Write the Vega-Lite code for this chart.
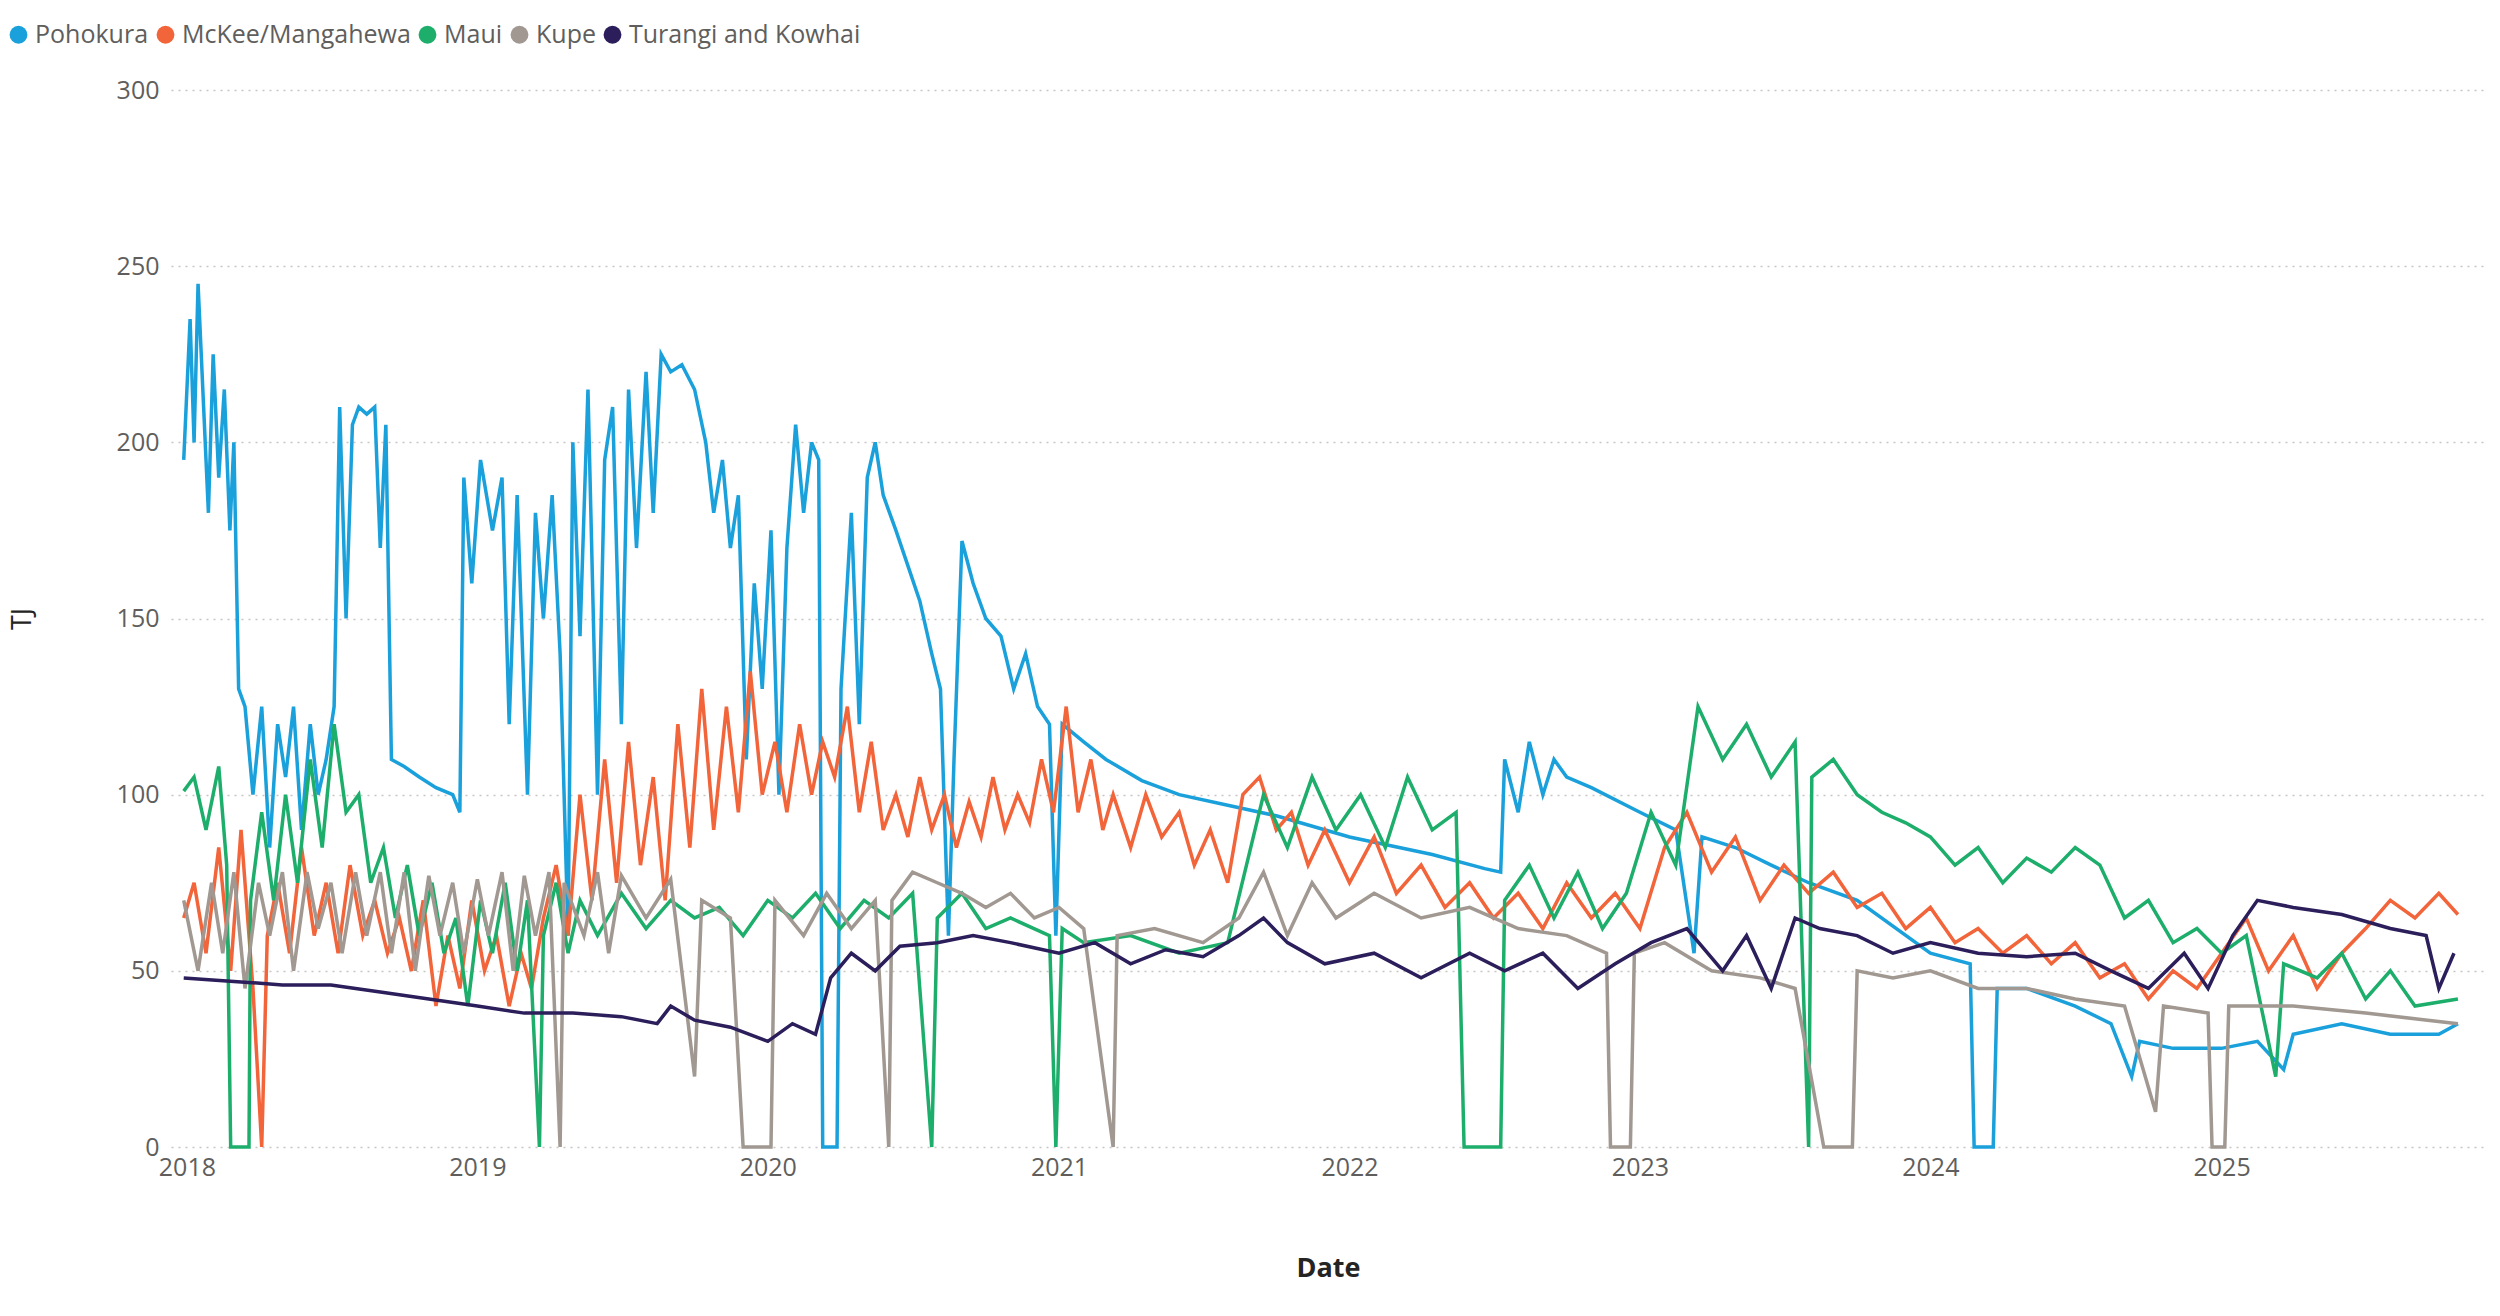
{
  "$schema": "https://vega.github.io/schema/vega-lite/v6.json",
  "width": 2500,
  "height": 1316,
  "autosize": {"type": "fit", "contains": "padding"},
  "padding": {"left": 8, "top": 78, "right": 15, "bottom": 35},
  "config": {
    "font": "Open Sans",
    "view": {"stroke": null},
    "axis": {"labelColor": "#605E5C", "labelFontSize": 25, "titleFontSize": 27, "titleColor": "#252423"}
  },
  "datasets": {
    "P": [{"d":"2017-12-28","v":195},{"d":"2018-01-05","v":235},{"d":"2018-01-10","v":200},{"d":"2018-01-15","v":245},{"d":"2018-01-22","v":210},{"d":"2018-01-28","v":180},{"d":"2018-02-03","v":225},{"d":"2018-02-10","v":190},{"d":"2018-02-17","v":215},{"d":"2018-02-24","v":175},{"d":"2018-03-01","v":200},{"d":"2018-03-07","v":130},{"d":"2018-03-15","v":125},{"d":"2018-03-25","v":100},{"d":"2018-04-05","v":125},{"d":"2018-04-15","v":85},{"d":"2018-04-25","v":120},{"d":"2018-05-05","v":105},{"d":"2018-05-15","v":125},{"d":"2018-05-25","v":90},{"d":"2018-06-05","v":120},{"d":"2018-06-15","v":100},{"d":"2018-06-25","v":110},{"d":"2018-07-05","v":125},{"d":"2018-07-12","v":210},{"d":"2018-07-20","v":150},{"d":"2018-07-28","v":205},{"d":"2018-08-05","v":210},{"d":"2018-08-15","v":208},{"d":"2018-08-25","v":210},{"d":"2018-09-01","v":170},{"d":"2018-09-08","v":205},{"d":"2018-09-15","v":110},{"d":"2018-10-01","v":108},{"d":"2018-10-20","v":105},{"d":"2018-11-10","v":102},{"d":"2018-12-01","v":100},{"d":"2018-12-10","v":95},{"d":"2018-12-15","v":190},{"d":"2018-12-25","v":160},{"d":"2019-01-05","v":195},{"d":"2019-01-20","v":175},{"d":"2019-02-01","v":190},{"d":"2019-02-10","v":120},{"d":"2019-02-20","v":185},{"d":"2019-03-05","v":100},{"d":"2019-03-15","v":180},{"d":"2019-03-25","v":150},{"d":"2019-04-05","v":185},{"d":"2019-04-15","v":140},{"d":"2019-04-25","v":60},{"d":"2019-05-01","v":200},{"d":"2019-05-10","v":145},{"d":"2019-05-20","v":215},{"d":"2019-06-01","v":100},{"d":"2019-06-10","v":195},{"d":"2019-06-20","v":210},{"d":"2019-07-01","v":120},{"d":"2019-07-10","v":215},{"d":"2019-07-20","v":170},{"d":"2019-08-01","v":220},{"d":"2019-08-10","v":180},{"d":"2019-08-20","v":225},{"d":"2019-09-01","v":220},{"d":"2019-09-15","v":222},{"d":"2019-10-01","v":215},{"d":"2019-10-15","v":200},{"d":"2019-10-25","v":180},{"d":"2019-11-05","v":195},{"d":"2019-11-15","v":170},{"d":"2019-11-25","v":185},{"d":"2019-12-05","v":110},{"d":"2019-12-15","v":160},{"d":"2019-12-25","v":130},{"d":"2020-01-05","v":175},{"d":"2020-01-15","v":100},{"d":"2020-01-25","v":170},{"d":"2020-02-05","v":205},{"d":"2020-02-15","v":180},{"d":"2020-02-25","v":200},{"d":"2020-03-05","v":195},{"d":"2020-03-10","v":0},{"d":"2020-03-28","v":0},{"d":"2020-04-02","v":130},{"d":"2020-04-15","v":180},{"d":"2020-04-25","v":120},{"d":"2020-05-05","v":190},{"d":"2020-05-15","v":200},{"d":"2020-05-25","v":185},{"d":"2020-06-10","v":175},{"d":"2020-06-25","v":165},{"d":"2020-07-10","v":155},{"d":"2020-07-25","v":140},{"d":"2020-08-05","v":130},{"d":"2020-08-15","v":60},{"d":"2020-08-22","v":110},{"d":"2020-09-01","v":172},{"d":"2020-09-15","v":160},{"d":"2020-10-01","v":150},{"d":"2020-10-20","v":145},{"d":"2020-11-05","v":130},{"d":"2020-11-20","v":140},{"d":"2020-12-05","v":125},{"d":"2020-12-20","v":120},{"d":"2020-12-28","v":60},{"d":"2021-01-05","v":120},{"d":"2021-02-01","v":115},{"d":"2021-03-01","v":110},{"d":"2021-04-15","v":104},{"d":"2021-06-01","v":100},{"d":"2021-08-01","v":97},{"d":"2021-10-01","v":94},{"d":"2022-01-01","v":88},{"d":"2022-04-15","v":83},{"d":"2022-06-20","v":79},{"d":"2022-07-10","v":78},{"d":"2022-07-15","v":110},{"d":"2022-08-01","v":95},{"d":"2022-08-15","v":115},{"d":"2022-09-01","v":100},{"d":"2022-09-15","v":110},{"d":"2022-10-01","v":105},{"d":"2022-11-01","v":102},{"d":"2023-01-01","v":95},{"d":"2023-02-15","v":90},{"d":"2023-03-10","v":55},{"d":"2023-03-20","v":88},{"d":"2023-05-01","v":85},{"d":"2023-06-15","v":80},{"d":"2023-08-01","v":75},{"d":"2023-10-01","v":70},{"d":"2024-01-01","v":55},{"d":"2024-02-20","v":52},{"d":"2024-02-25","v":0},{"d":"2024-03-20","v":0},{"d":"2024-03-25","v":45},{"d":"2024-05-01","v":45},{"d":"2024-07-01","v":40},{"d":"2024-08-15","v":35},{"d":"2024-09-10","v":20},{"d":"2024-09-20","v":30},{"d":"2024-11-01","v":28},{"d":"2025-01-01","v":28},{"d":"2025-02-15","v":30},{"d":"2025-03-20","v":22},{"d":"2025-04-01","v":32},{"d":"2025-06-01","v":35},{"d":"2025-08-01","v":32},{"d":"2025-10-01","v":32},{"d":"2025-10-25","v":35}],
    "M": [{"d":"2017-12-28","v":65},{"d":"2018-01-10","v":75},{"d":"2018-01-25","v":55},{"d":"2018-02-10","v":85},{"d":"2018-02-25","v":50},{"d":"2018-03-10","v":90},{"d":"2018-03-25","v":45},{"d":"2018-04-05","v":0},{"d":"2018-04-12","v":60},{"d":"2018-04-25","v":75},{"d":"2018-05-10","v":55},{"d":"2018-05-25","v":85},{"d":"2018-06-10","v":60},{"d":"2018-06-25","v":75},{"d":"2018-07-10","v":55},{"d":"2018-07-25","v":80},{"d":"2018-08-10","v":60},{"d":"2018-08-25","v":70},{"d":"2018-09-10","v":55},{"d":"2018-09-25","v":65},{"d":"2018-10-10","v":50},{"d":"2018-10-25","v":70},{"d":"2018-11-10","v":40},{"d":"2018-11-25","v":60},{"d":"2018-12-10","v":45},{"d":"2018-12-25","v":70},{"d":"2019-01-10","v":50},{"d":"2019-01-25","v":60},{"d":"2019-02-10","v":40},{"d":"2019-02-25","v":55},{"d":"2019-03-10","v":45},{"d":"2019-03-25","v":65},{"d":"2019-04-10","v":80},{"d":"2019-04-25","v":60},{"d":"2019-05-10","v":100},{"d":"2019-05-25","v":70},{"d":"2019-06-10","v":110},{"d":"2019-06-25","v":75},{"d":"2019-07-10","v":115},{"d":"2019-07-25","v":80},{"d":"2019-08-10","v":105},{"d":"2019-08-25","v":70},{"d":"2019-09-10","v":120},{"d":"2019-09-25","v":85},{"d":"2019-10-10","v":130},{"d":"2019-10-25","v":90},{"d":"2019-11-10","v":125},{"d":"2019-11-25","v":95},{"d":"2019-12-10","v":135},{"d":"2019-12-25","v":100},{"d":"2020-01-10","v":115},{"d":"2020-01-25","v":95},{"d":"2020-02-10","v":120},{"d":"2020-02-25","v":100},{"d":"2020-03-10","v":115},{"d":"2020-03-25","v":105},{"d":"2020-04-10","v":125},{"d":"2020-04-25","v":95},{"d":"2020-05-10","v":115},{"d":"2020-05-25","v":90},{"d":"2020-06-10","v":100},{"d":"2020-06-25","v":88},{"d":"2020-07-10","v":105},{"d":"2020-07-25","v":90},{"d":"2020-08-10","v":100},{"d":"2020-08-25","v":85},{"d":"2020-09-10","v":98},{"d":"2020-09-25","v":88},{"d":"2020-10-10","v":105},{"d":"2020-10-25","v":90},{"d":"2020-11-10","v":100},{"d":"2020-11-25","v":92},{"d":"2020-12-10","v":110},{"d":"2020-12-25","v":95},{"d":"2021-01-10","v":125},{"d":"2021-01-25","v":95},{"d":"2021-02-10","v":110},{"d":"2021-02-25","v":90},{"d":"2021-03-10","v":100},{"d":"2021-04-01","v":85},{"d":"2021-04-20","v":100},{"d":"2021-05-10","v":88},{"d":"2021-06-01","v":95},{"d":"2021-06-20","v":80},{"d":"2021-07-10","v":90},{"d":"2021-08-01","v":75},{"d":"2021-08-20","v":100},{"d":"2021-09-10","v":105},{"d":"2021-10-01","v":90},{"d":"2021-10-20","v":95},{"d":"2021-11-10","v":80},{"d":"2021-12-01","v":90},{"d":"2022-01-01","v":75},{"d":"2022-02-01","v":88},{"d":"2022-03-01","v":72},{"d":"2022-04-01","v":80},{"d":"2022-05-01","v":68},{"d":"2022-06-01","v":75},{"d":"2022-07-01","v":65},{"d":"2022-08-01","v":72},{"d":"2022-09-01","v":62},{"d":"2022-10-01","v":75},{"d":"2022-11-01","v":65},{"d":"2022-12-01","v":72},{"d":"2023-01-01","v":62},{"d":"2023-02-01","v":85},{"d":"2023-03-01","v":95},{"d":"2023-04-01","v":78},{"d":"2023-05-01","v":88},{"d":"2023-06-01","v":70},{"d":"2023-07-01","v":80},{"d":"2023-08-01","v":72},{"d":"2023-09-01","v":78},{"d":"2023-10-01","v":68},{"d":"2023-11-01","v":72},{"d":"2023-12-01","v":62},{"d":"2024-01-01","v":68},{"d":"2024-02-01","v":58},{"d":"2024-03-01","v":62},{"d":"2024-04-01","v":55},{"d":"2024-05-01","v":60},{"d":"2024-06-01","v":52},{"d":"2024-07-01","v":58},{"d":"2024-08-01","v":48},{"d":"2024-09-01","v":52},{"d":"2024-10-01","v":42},{"d":"2024-11-01","v":50},{"d":"2024-12-01","v":45},{"d":"2025-01-01","v":55},{"d":"2025-02-01","v":65},{"d":"2025-03-01","v":50},{"d":"2025-04-01","v":60},{"d":"2025-05-01","v":45},{"d":"2025-06-01","v":55},{"d":"2025-07-01","v":62},{"d":"2025-08-01","v":70},{"d":"2025-09-01","v":65},{"d":"2025-10-01","v":72},{"d":"2025-10-25","v":66}],
    "Ma": [{"d":"2017-12-28","v":101},{"d":"2018-01-10","v":105},{"d":"2018-01-25","v":90},{"d":"2018-02-10","v":108},{"d":"2018-02-20","v":80},{"d":"2018-02-25","v":0},{"d":"2018-03-20","v":0},{"d":"2018-03-22","v":70},{"d":"2018-04-05","v":95},{"d":"2018-04-20","v":70},{"d":"2018-05-05","v":100},{"d":"2018-05-20","v":75},{"d":"2018-06-05","v":110},{"d":"2018-06-20","v":85},{"d":"2018-07-05","v":120},{"d":"2018-07-20","v":95},{"d":"2018-08-05","v":100},{"d":"2018-08-20","v":75},{"d":"2018-09-05","v":85},{"d":"2018-09-20","v":65},{"d":"2018-10-05","v":80},{"d":"2018-10-20","v":60},{"d":"2018-11-05","v":75},{"d":"2018-11-20","v":55},{"d":"2018-12-05","v":65},{"d":"2018-12-20","v":40},{"d":"2019-01-05","v":70},{"d":"2019-01-20","v":55},{"d":"2019-02-05","v":75},{"d":"2019-02-20","v":50},{"d":"2019-03-05","v":70},{"d":"2019-03-20","v":0},{"d":"2019-03-25","v":60},{"d":"2019-04-10","v":75},{"d":"2019-04-25","v":55},{"d":"2019-05-10","v":70},{"d":"2019-06-01","v":60},{"d":"2019-07-01","v":72},{"d":"2019-08-01","v":62},{"d":"2019-09-01","v":70},{"d":"2019-10-01","v":65},{"d":"2019-11-01","v":68},{"d":"2019-12-01","v":60},{"d":"2020-01-01","v":70},{"d":"2020-02-01","v":65},{"d":"2020-03-01","v":72},{"d":"2020-04-01","v":62},{"d":"2020-05-01","v":70},{"d":"2020-06-01","v":65},{"d":"2020-07-01","v":72},{"d":"2020-07-25","v":0},{"d":"2020-08-01","v":65},{"d":"2020-09-01","v":72},{"d":"2020-10-01","v":62},{"d":"2020-11-01","v":65},{"d":"2020-12-20","v":60},{"d":"2020-12-28","v":0},{"d":"2021-01-05","v":62},{"d":"2021-02-01","v":58},{"d":"2021-04-01","v":60},{"d":"2021-06-01","v":55},{"d":"2021-08-01","v":58},{"d":"2021-09-15","v":100},{"d":"2021-10-15","v":85},{"d":"2021-11-15","v":105},{"d":"2021-12-15","v":90},{"d":"2022-01-15","v":100},{"d":"2022-02-15","v":85},{"d":"2022-03-15","v":105},{"d":"2022-04-15","v":90},{"d":"2022-05-15","v":95},{"d":"2022-05-25","v":0},{"d":"2022-07-10","v":0},{"d":"2022-07-15","v":70},{"d":"2022-08-15","v":80},{"d":"2022-09-15","v":65},{"d":"2022-10-15","v":78},{"d":"2022-11-15","v":62},{"d":"2022-12-15","v":72},{"d":"2023-01-15","v":95},{"d":"2023-02-15","v":80},{"d":"2023-03-15","v":125},{"d":"2023-04-15","v":110},{"d":"2023-05-15","v":120},{"d":"2023-06-15","v":105},{"d":"2023-07-15","v":115},{"d":"2023-08-01","v":0},{"d":"2023-08-05","v":105},{"d":"2023-09-01","v":110},{"d":"2023-10-01","v":100},{"d":"2023-11-01","v":95},{"d":"2023-12-01","v":92},{"d":"2024-01-01","v":88},{"d":"2024-02-01","v":80},{"d":"2024-03-01","v":85},{"d":"2024-04-01","v":75},{"d":"2024-05-01","v":82},{"d":"2024-06-01","v":78},{"d":"2024-07-01","v":85},{"d":"2024-08-01","v":80},{"d":"2024-09-01","v":65},{"d":"2024-10-01","v":70},{"d":"2024-11-01","v":58},{"d":"2024-12-01","v":62},{"d":"2025-01-01","v":55},{"d":"2025-02-01","v":60},{"d":"2025-03-10","v":20},{"d":"2025-03-20","v":52},{"d":"2025-05-01","v":48},{"d":"2025-06-01","v":55},{"d":"2025-07-01","v":42},{"d":"2025-08-01","v":50},{"d":"2025-09-01","v":40},{"d":"2025-10-25","v":42}],
    "K": [{"d":"2017-12-28","v":70},{"d":"2018-01-15","v":50},{"d":"2018-02-01","v":75},{"d":"2018-02-15","v":55},{"d":"2018-03-01","v":78},{"d":"2018-03-15","v":45},{"d":"2018-04-01","v":75},{"d":"2018-04-15","v":60},{"d":"2018-05-01","v":78},{"d":"2018-05-15","v":50},{"d":"2018-06-01","v":78},{"d":"2018-06-15","v":62},{"d":"2018-07-01","v":75},{"d":"2018-07-15","v":55},{"d":"2018-08-01","v":78},{"d":"2018-08-15","v":60},{"d":"2018-09-01","v":78},{"d":"2018-09-15","v":55},{"d":"2018-10-01","v":78},{"d":"2018-10-15","v":50},{"d":"2018-11-01","v":77},{"d":"2018-11-15","v":60},{"d":"2018-12-01","v":75},{"d":"2018-12-15","v":55},{"d":"2019-01-01","v":76},{"d":"2019-01-15","v":60},{"d":"2019-02-01","v":78},{"d":"2019-02-15","v":50},{"d":"2019-03-01","v":77},{"d":"2019-03-15","v":60},{"d":"2019-04-01","v":78},{"d":"2019-04-15","v":0},{"d":"2019-04-20","v":75},{"d":"2019-05-15","v":60},{"d":"2019-06-01","v":78},{"d":"2019-06-15","v":55},{"d":"2019-07-01","v":77},{"d":"2019-08-01","v":65},{"d":"2019-09-01","v":76},{"d":"2019-10-01","v":20},{"d":"2019-10-10","v":70},{"d":"2019-11-15","v":65},{"d":"2019-12-01","v":0},{"d":"2020-01-05","v":0},{"d":"2020-01-10","v":70},{"d":"2020-02-15","v":60},{"d":"2020-03-15","v":72},{"d":"2020-04-15","v":62},{"d":"2020-05-15","v":70},{"d":"2020-06-01","v":0},{"d":"2020-06-05","v":70},{"d":"2020-07-01","v":78},{"d":"2020-08-01","v":75},{"d":"2020-09-01","v":72},{"d":"2020-10-01","v":68},{"d":"2020-11-01","v":72},{"d":"2020-12-01","v":65},{"d":"2021-01-01","v":68},{"d":"2021-02-01","v":62},{"d":"2021-03-10","v":0},{"d":"2021-03-15","v":60},{"d":"2021-05-01","v":62},{"d":"2021-07-01","v":58},{"d":"2021-08-15","v":65},{"d":"2021-09-15","v":78},{"d":"2021-10-15","v":60},{"d":"2021-11-15","v":75},{"d":"2021-12-15","v":65},{"d":"2022-02-01","v":72},{"d":"2022-04-01","v":65},{"d":"2022-06-01","v":68},{"d":"2022-08-01","v":62},{"d":"2022-10-01","v":60},{"d":"2022-11-20","v":55},{"d":"2022-11-25","v":0},{"d":"2022-12-20","v":0},{"d":"2022-12-25","v":55},{"d":"2023-02-01","v":58},{"d":"2023-04-01","v":50},{"d":"2023-06-01","v":48},{"d":"2023-07-15","v":45},{"d":"2023-08-20","v":0},{"d":"2023-09-25","v":0},{"d":"2023-10-01","v":50},{"d":"2023-11-15","v":48},{"d":"2024-01-01","v":50},{"d":"2024-03-01","v":45},{"d":"2024-05-01","v":45},{"d":"2024-07-01","v":42},{"d":"2024-09-01","v":40},{"d":"2024-10-10","v":10},{"d":"2024-10-20","v":40},{"d":"2024-12-15","v":38},{"d":"2024-12-20","v":0},{"d":"2025-01-05","v":0},{"d":"2025-01-10","v":40},{"d":"2025-04-01","v":40},{"d":"2025-07-01","v":38},{"d":"2025-10-25","v":35}],
    "T": [{"d":"2017-12-28","v":48},{"d":"2018-03-01","v":47},{"d":"2018-05-01","v":46},{"d":"2018-07-01","v":46},{"d":"2018-09-01","v":44},{"d":"2018-11-01","v":42},{"d":"2019-01-01","v":40},{"d":"2019-03-01","v":38},{"d":"2019-05-01","v":38},{"d":"2019-07-01","v":37},{"d":"2019-08-15","v":35},{"d":"2019-09-01","v":40},{"d":"2019-10-01","v":36},{"d":"2019-11-15","v":34},{"d":"2020-01-01","v":30},{"d":"2020-02-01","v":35},{"d":"2020-03-01","v":32},{"d":"2020-03-20","v":48},{"d":"2020-04-15","v":55},{"d":"2020-05-15","v":50},{"d":"2020-06-15","v":57},{"d":"2020-08-01","v":58},{"d":"2020-09-15","v":60},{"d":"2020-11-01","v":58},{"d":"2021-01-01","v":55},{"d":"2021-02-15","v":58},{"d":"2021-04-01","v":52},{"d":"2021-05-15","v":56},{"d":"2021-07-01","v":54},{"d":"2021-08-15","v":60},{"d":"2021-09-15","v":65},{"d":"2021-10-15","v":58},{"d":"2021-12-01","v":52},{"d":"2022-02-01","v":55},{"d":"2022-04-01","v":48},{"d":"2022-06-01","v":55},{"d":"2022-07-15","v":50},{"d":"2022-09-01","v":55},{"d":"2022-10-15","v":45},{"d":"2022-12-01","v":52},{"d":"2023-01-15","v":58},{"d":"2023-03-01","v":62},{"d":"2023-04-15","v":50},{"d":"2023-05-15","v":60},{"d":"2023-06-15","v":45},{"d":"2023-07-15","v":65},{"d":"2023-08-15","v":62},{"d":"2023-10-01","v":60},{"d":"2023-11-15","v":55},{"d":"2024-01-01","v":58},{"d":"2024-03-01","v":55},{"d":"2024-05-01","v":54},{"d":"2024-07-01","v":55},{"d":"2024-08-15","v":50},{"d":"2024-10-01","v":45},{"d":"2024-11-15","v":55},{"d":"2024-12-15","v":45},{"d":"2025-01-15","v":60},{"d":"2025-02-15","v":70},{"d":"2025-04-01","v":68},{"d":"2025-06-01","v":66},{"d":"2025-08-01","v":62},{"d":"2025-09-15","v":60},{"d":"2025-10-01","v":45},{"d":"2025-10-20","v":55}]
  },
  "encoding": {
    "x": {"field": "d", "type": "temporal", "title": "Date",
      "scale": {"domain": ["2017-12-12", "2025-11-28"]},
      "axis": {"format": "%Y", "tickCount": "year", "grid": false, "domain": false, "ticks": false, "labelPadding": 8, "titlePadding": 75, "titleFontWeight": "bold"}},
    "y": {"field": "v", "type": "quantitative", "title": "TJ",
      "scale": {"domain": [0, 300]},
      "axis": {"values": [0, 50, 100, 150, 200, 250, 300], "domain": false, "ticks": false, "gridDash": [2, 5], "gridColor": "#C8C6C4", "gridWidth": 1.5, "labelPadding": 12, "titlePadding": 80, "titleFontWeight": "normal"}},
    "color": {"type": "nominal",
      "scale": {"domain": ["Pohokura", "McKee/Mangahewa", "Maui", "Kupe", "Turangi and Kowhai"], "range": ["#1AA0DB", "#F2643A", "#1EAE6B", "#A09891", "#2B1E5B"]},
      "legend": {"orient": "none", "legendX": -165, "legendY": -68, "direction": "horizontal", "title": null, "symbolType": "circle", "symbolSize": 320, "symbolStrokeWidth": 0, "labelFontSize": 25, "labelColor": "#605E5C", "labelLimit": 0, "columnPadding": 4, "symbolOffset": 0,
        "encode": {"symbols": {"update": {"fill": {"scale": "color", "field": "value"}, "fillOpacity": {"value": 1}}}}}}
  },
  "layer": [
    {"data": {"name": "P"}, "mark": {"type": "line", "strokeWidth": 3.5}, "encoding": {"color": {"datum": "Pohokura"}}},
    {"data": {"name": "M"}, "mark": {"type": "line", "strokeWidth": 3.5}, "encoding": {"color": {"datum": "McKee/Mangahewa"}}},
    {"data": {"name": "Ma"}, "mark": {"type": "line", "strokeWidth": 3.5}, "encoding": {"color": {"datum": "Maui"}}},
    {"data": {"name": "K"}, "mark": {"type": "line", "strokeWidth": 3.5}, "encoding": {"color": {"datum": "Kupe"}}},
    {"data": {"name": "T"}, "mark": {"type": "line", "strokeWidth": 3.5}, "encoding": {"color": {"datum": "Turangi and Kowhai"}}}
  ]
}
